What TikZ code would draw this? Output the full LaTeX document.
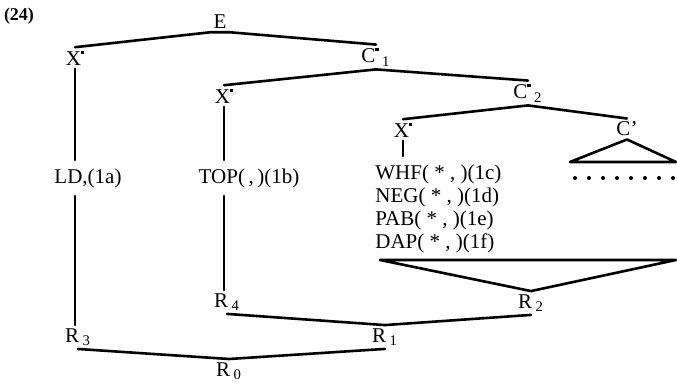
\documentclass[tikz,border=0pt]{standalone}
\usepackage{fontspec}
\setmainfont{Liberation Serif}
\newcommand{\barmark}{\raisebox{0.55em}{\rule{1.6pt}{1.6pt}}}

\begin{document}
\begin{tikzpicture}[x=0.5pt,y=-0.5pt,
		Cat/.style={inner sep=1.5pt,font=\fontsize{10.5}{12}\selectfont},
		Rule/.style={inner xsep=1.5pt,inner ysep=4pt,align=left,font=\fontsize{10.5}{11.65}\selectfont},
		Edge/.style={line width=1.3pt,line cap=round,line join=round}]
		\pgfmathsetmacro{\gap}{14}
		\useasboundingbox (0,0) rectangle (677,383);
		% nodes
		\node[font=\fontsize{9}{10}\selectfont\bfseries] (Num) at (19,16) {(24)};
		\node[Cat] (E) at (220,22) {E};
		\node[Cat] (Xa) at (75,58) {X\barmark};
		\node[Cat] (C1) at (376,57) {C\barmark\,\textsubscript{1}};
		\node[Cat] (Xb) at (224,96) {X\barmark};
		\node[Cat] (C2) at (528,93) {C\barmark\,\textsubscript{2}};
		\node[Cat] (Xc) at (403,130) {X\barmark};
		\node[Cat] (Cp) at (627,129) {C'};
		\node[Rule] (LD) at (88,178) {LD,(1a)};
		\node[Rule] (TOP) at (249,178) {TOP(\,,\,)(1b)};
		\node[Rule,anchor=west] (WHF) at (372,209) {WHF( * , )(1c)\\NEG( * , )(1d)\\PAB( * , )(1e)\\DAP( * , )(1f)};
		\node[Cat] (R4) at (227,302) {R\,\textsubscript{4}};
		\node[Cat] (R2) at (531,303) {R\,\textsubscript{2}};
		\node[Cat] (R3) at (78,337) {R\,\textsubscript{3}};
		\node[Cat] (R1) at (385,337) {R\,\textsubscript{1}};
		\node[Cat] (R0) at (229,371) {R\,\textsubscript{0}};
		\coordinate (SmallL) at (570,162);
		\coordinate (SmallR) at (676,162);
		\coordinate (BigL) at (380,260);
		\coordinate (BigR) at (676,260);
		% connections
		\draw[Edge] (Xa.north) -- (E.south west) -- (E.south east) -- (C1.north);
		\draw[Edge] (Xb.north) -- (C1.south) -- (C2.north);
		\draw[Edge] (Xc.north) -- (C2.south) -- (Cp.north);
		\draw[Edge] (Cp.south) -- (SmallL) -- (SmallR) -- cycle;
		\foreach \i in {0,...,7}
			\fill (575+\gap*\i,178) circle[radius=1pt];
		\draw[Edge] (Xa.south) -- (Xa.south |- LD.north);
		\draw[Edge] (Xa.south |- LD.south) -- (Xa.south |- R3.north);
		\draw[Edge] (Xb.south) -- (Xb.south |- TOP.north);
		\draw[Edge] (Xb.south |- TOP.south) -- (Xb.south |- R4.north);
		\draw[Edge] (Xc.south) -- (Xc.south |- WHF.north);
		\draw[Edge] (R2.north) -- (BigL) -- (BigR) -- cycle;
		\draw[Edge] (R4.south) -- (R1.north) -- (R2.south);
		\draw[Edge] (R3.south) -- (R0.north) -- (R1.south);
	\end{tikzpicture}
\end{document}
